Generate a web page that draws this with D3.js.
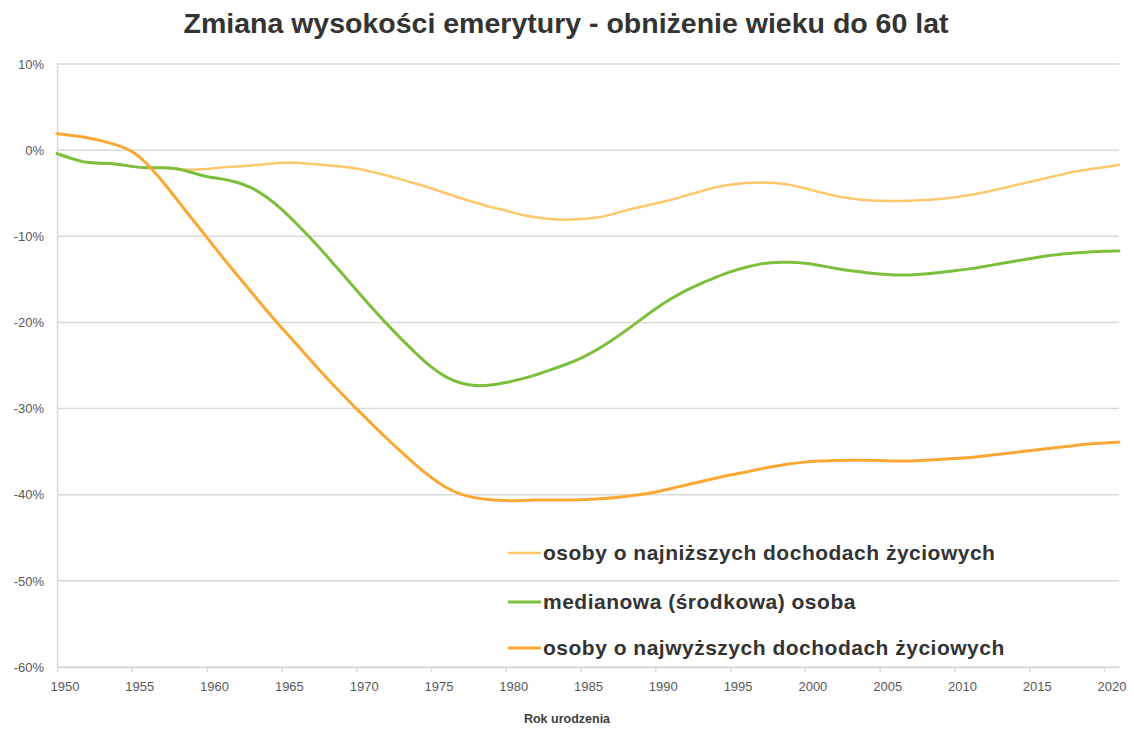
<!DOCTYPE html>
<html>
<head>
<meta charset="utf-8">
<script src="https://cdn.jsdelivr.net/npm/d3@7"></script>
<style>
  html, body { margin: 0; padding: 0; background: #fff; }
  svg { display: block; }
</style>
</head>
<body>
<div id="chart"></div>
<script>
// Zmiana wysokości emerytury - obniżenie wieku do 60 lat
const years = d3.range(1950, 2022);

// osoby o najniższych dochodach życiowych (%)
const lowest = [
  -0.4, -1.0, -1.5, -1.5, -1.6, -1.9, -2.1, -2.0, -2.2, -2.3,
  -2.2, -2.0, -1.9, -1.8, -1.6, -1.45, -1.45, -1.6, -1.75, -1.9,
  -2.1, -2.5, -2.9, -3.4, -3.9, -4.4, -5.0, -5.6, -6.1, -6.6,
  -7.0, -7.5, -7.8, -8.0, -8.1, -8.0, -7.9, -7.5, -7.0, -6.6,
  -6.2, -5.8, -5.3, -4.8, -4.3, -4.0, -3.8, -3.75, -3.8, -4.0,
  -4.4, -4.9, -5.3, -5.6, -5.8, -5.9, -5.9, -5.9, -5.8, -5.7,
  -5.5, -5.2, -4.9, -4.5, -4.1, -3.7, -3.3, -2.9, -2.5, -2.2,
  -2.0, -1.7
];

// medianowa (środkowa) osoba (%)
const median = [
  -0.4, -1.0, -1.5, -1.5, -1.6, -1.9, -2.1, -2.0, -2.1, -2.6,
  -3.1, -3.3, -3.7, -4.3, -5.4, -6.8, -8.5, -10.3, -12.2, -14.2,
  -16.2, -18.2, -20.1, -21.9, -23.6, -25.2, -26.4, -27.1, -27.4, -27.3,
  -27.0, -26.6, -26.1, -25.5, -24.9, -24.2, -23.3, -22.2, -21.0, -19.7,
  -18.4, -17.3, -16.3, -15.5, -14.8, -14.1, -13.6, -13.2, -13.0, -13.0,
  -13.1, -13.4, -13.7, -14.0, -14.2, -14.4, -14.5, -14.5, -14.4, -14.2,
  -14.0, -13.8, -13.5, -13.2, -12.9, -12.6, -12.3, -12.1, -11.95, -11.8,
  -11.75, -11.7
];

// osoby o najwyższych dochodach życiowych (%)
const highest = [
  1.9, 1.7, 1.45, 1.1, 0.6, 0.0, -1.5, -3.5, -5.7, -7.9,
  -10.1, -12.3, -14.4, -16.5, -18.6, -20.6, -22.5, -24.5, -26.4, -28.2,
  -30.0, -31.7, -33.4, -35.0, -36.6, -38.0, -39.2, -40.0, -40.4, -40.6,
  -40.7, -40.7, -40.6, -40.6, -40.6, -40.6, -40.5, -40.4, -40.2, -40.0,
  -39.7, -39.3, -38.9, -38.5, -38.1, -37.7, -37.4, -37.0, -36.7, -36.4,
  -36.2, -36.1, -36.0, -36.0, -36.0, -36.0, -36.1, -36.1, -36.0, -35.9,
  -35.8, -35.7, -35.5, -35.3, -35.1, -34.9, -34.7, -34.5, -34.3, -34.1,
  -34.0, -33.9
];

const seriesNames = [
  'osoby o najniższych dochodach życiowych',
  'medianowa (środkowa) osoba',
  'osoby o najwyższych dochodach życiowych'
];
const seriesColors = ['#ffc76b', '#7cbf3c', '#fba733'];
const seriesWidths = [2.5, 3, 3];

const yTicks = [10, 0, -10, -20, -30, -40, -50, -60];
const xTicks = d3.range(1950, 2021, 5);

const W = 1134, H = 732;
const plotLeft = 57, plotRight = 1119, plotTop = 64, plotBottom = 667;

const svg = d3.select('#chart').append('svg')
  .attr('width', W)
  .attr('height', H)
  .style('font-family', 'Liberation Sans, Arial, sans-serif');

const x = d3.scaleLinear().domain([1950, 2021]).range([plotLeft, plotRight]);
const y = d3.scaleLinear().domain([-60, 10]).range([plotBottom, plotTop]);

// title
svg.append('text')
  .attr('x', 566)
  .attr('y', 33)
  .attr('text-anchor', 'middle')
  .style('font-weight', 'bold')
  .style('font-size', '28.5px')
  .attr('fill', '#333')
  .text('Zmiana wysokości emerytury - obniżenie wieku do 60 lat');

// grid lines
svg.append('g')
  .selectAll('line')
  .data(yTicks)
  .join('line')
  .attr('x1', plotLeft)
  .attr('x2', plotRight)
  .attr('y1', d => y(d))
  .attr('y2', d => y(d))
  .attr('stroke', '#d9d9d9')
  .attr('stroke-width', 1.5);

// y axis
const yAxis = svg.append('g')
  .attr('transform', `translate(${plotLeft},0)`)
  .call(d3.axisLeft(y).tickValues(yTicks).tickSize(0).tickPadding(13).tickFormat(d => d + '%'));
yAxis.select('.domain').attr('stroke', '#d9d9d9').attr('stroke-width', 1.5);
yAxis.selectAll('text')
  .style('font-size', '13px')
  .style('font-family', 'Liberation Sans, Arial, sans-serif')
  .attr('fill', '#595959');

// x axis
const xAxis = svg.append('g')
  .attr('transform', `translate(0,${plotBottom})`)
  .call(d3.axisBottom(x).tickValues(xTicks).tickSize(5).tickSizeOuter(0).tickFormat(d3.format('d')));
xAxis.select('.domain').attr('stroke', '#d9d9d9').attr('stroke-width', 1.5);
xAxis.selectAll('.tick line').attr('stroke', '#d9d9d9').attr('stroke-width', 1.5);
xAxis.selectAll('text')
  .attr('x', (x(1951) - x(1950)) / 2)
  .attr('dy', '1.2em')
  .style('font-size', '13px')
  .style('font-family', 'Liberation Sans, Arial, sans-serif')
  .attr('fill', '#595959');

svg.append('text')
  .attr('x', 567)
  .attr('y', 723)
  .attr('text-anchor', 'middle')
  .style('font-weight', 'bold')
  .style('font-size', '12.5px')
  .attr('fill', '#404040')
  .text('Rok urodzenia');

// lines
const seriesData = [lowest, median, highest];
const line = d3.line()
  .x((d, i) => x(years[i]))
  .y(d => y(d))
  .curve(d3.curveBasis);

svg.append('g')
  .selectAll('path')
  .data(seriesData)
  .join('path')
  .attr('d', d => line(d))
  .attr('fill', 'none')
  .attr('stroke', (d, i) => seriesColors[i])
  .attr('stroke-width', (d, i) => seriesWidths[i])
  .attr('stroke-linejoin', 'round')
  .attr('stroke-linecap', 'round');

// legend
const legendY = [553, 602, 648];
const legend = svg.append('g')
  .selectAll('g')
  .data(seriesNames)
  .join('g')
  .attr('transform', (d, i) => `translate(508,${legendY[i]})`);

legend.append('line')
  .attr('x1', 0)
  .attr('x2', 33)
  .attr('stroke', (d, i) => seriesColors[i])
  .attr('stroke-width', (d, i) => seriesWidths[i]);

legend.append('text')
  .attr('x', 35)
  .attr('dy', '0.35em')
  .style('font-weight', 'bold')
  .style('font-size', '21px')
  .style('letter-spacing', '0.5px')
  .attr('fill', '#333')
  .text(d => d);
</script>
</body>
</html>
